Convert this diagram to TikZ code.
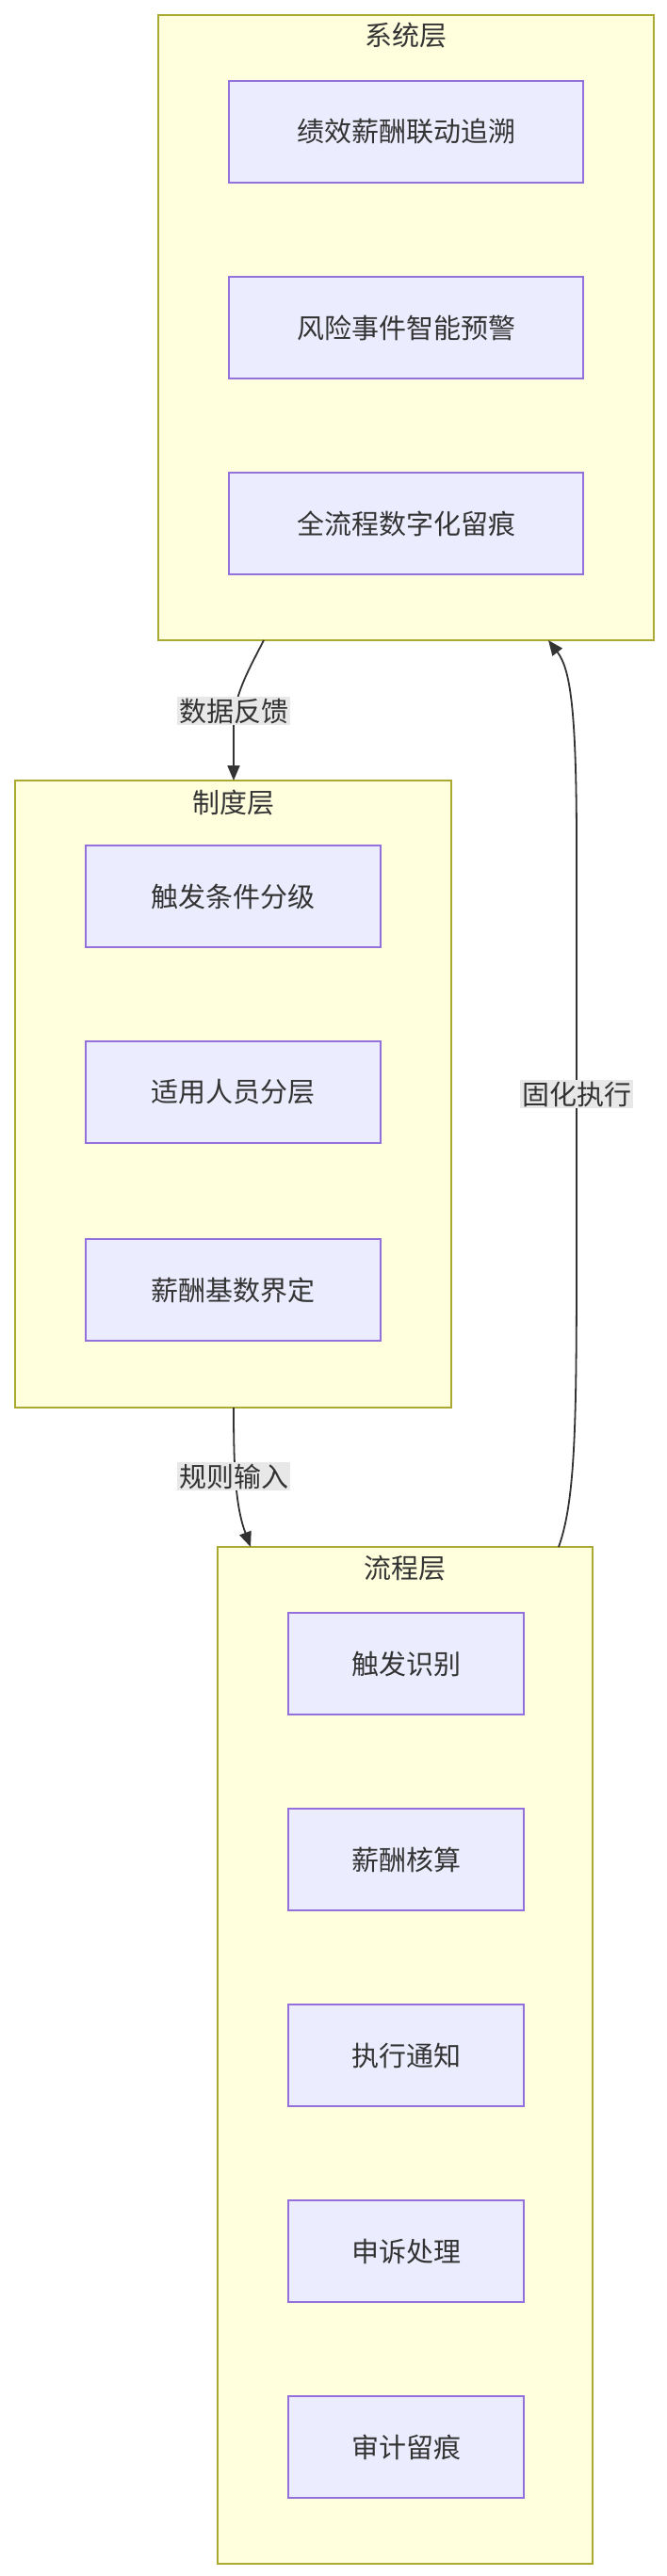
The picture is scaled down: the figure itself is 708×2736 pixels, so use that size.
\documentclass[tikz,border=0pt]{standalone}
\usepackage{fontspec}
\setmainfont{Noto Sans CJK SC}
\usetikzlibrary{arrows.meta}
\definecolor{grpfill}{HTML}{FFFFDE}
\definecolor{grpdraw}{HTML}{AAAA33}
\definecolor{nfill}{HTML}{ECECFF}
\definecolor{ndraw}{HTML}{9370DB}
\definecolor{lblbg}{HTML}{E8E8E8}
\definecolor{txt}{HTML}{333333}
\begin{document}
\begin{tikzpicture}[x=1pt,y=-1pt,
  grp/.style={draw=grpdraw,fill=grpfill,line width=1.5pt},
  nd/.style={draw=ndraw,fill=nfill,line width=1.5pt,text=txt,font=\fontsize{29}{32}\selectfont},
  ttl/.style={text=txt,font=\fontsize{29}{32}\selectfont},
  lbl/.style={fill=lblbg,text=txt,font=\fontsize{29}{32}\selectfont,inner sep=2pt},
  ar/.style={draw=txt,line width=1.8pt,-{Triangle[length=16pt,width=13pt]}}]
\useasboundingbox (0,0) rectangle (708,2736);
\fill[white] (0,0) rectangle (708,2736);
% groups
\draw[grp] (168,16) rectangle (694,680);
\node[ttl] (t1) at (431,38) {系统层};
\draw[grp] (16,829) rectangle (479,1495);
\node[ttl] (t2) at (248,853) {制度层};
\draw[grp] (231,1643) rectangle (629,2723);
\node[ttl] (t3) at (430,1666) {流程层};
\coordinate (sysB1) at (280,680);
\coordinate (sysB2) at (582,680);
\coordinate (zdT) at (248,829);
\coordinate (zdB) at (248,1495);
\coordinate (lcT1) at (266,1643);
\coordinate (lcT2) at (593,1643);
% nodes
\foreach \n/\y/\t in {a/140/绩效薪酬联动追溯,b/348/风险事件智能预警,c/556/全流程数字化留痕}
  \path[nd] (243,\y-54) rectangle (619,\y+54) node[pos=.5,draw=none,fill=none] (\n) {\t};
\foreach \n/\y/\t in {d/952/触发条件分级,e/1160/适用人员分层,f/1370/薪酬基数界定}
  \path[nd] (91,\y-54) rectangle (404,\y+54) node[pos=.5,draw=none,fill=none] (\n) {\t};
\foreach \n/\y/\t in {g/1767/触发识别,h/1975/薪酬核算,i/2183/执行通知,j/2391/申诉处理,k/2599/审计留痕}
  \path[nd] (306,\y-54) rectangle (556,\y+54) node[pos=.5,draw=none,fill=none] (\n) {\t};
% edges
\draw[ar] (sysB1) .. controls (262,715) and (248,740) .. (248,770) -- (zdT);
\node[lbl] (l1) at (248,755) {数据反馈};
\draw[ar] (zdB) .. controls (248,1560) and (250,1600) .. (lcT1);
\node[lbl] (l2) at (248,1568) {规则输入};
\draw[ar] (lcT2) .. controls (612,1590) and (612,1500) .. (612,1300) -- (612,900) .. controls (612,750) and (605,710) .. (sysB2);
\node[lbl] (l3) at (612,1162) {固化执行};
\end{tikzpicture}
\end{document}
